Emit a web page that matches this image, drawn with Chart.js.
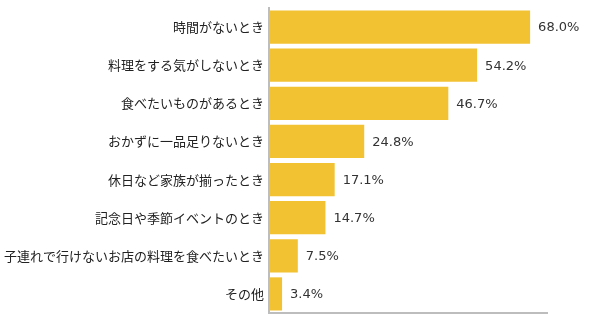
<!DOCTYPE html>
<html lang="ja">
<head>
    <meta charset="UTF-8">
    <title>利用シーン</title>
    <script src="https://cdn.jsdelivr.net/npm/chart.js"></script>
    <style>
        html, body {
            margin: 0;
            padding: 0;
            background: #ffffff;
        }

        .chart-container {
            width: 599px;
            height: 322px;
        }
    </style>
</head>
<body>
    <div class="chart-container">
        <canvas id="sceneChart"></canvas>
    </div>

    <script>
        const categories = [
            '時間がないとき',
            '料理をする気がしないとき',
            '食べたいものがあるとき',
            'おかずに一品足りないとき',
            '休日など家族が揃ったとき',
            '記念日や季節イベントのとき',
            '子連れで行けないお店の料理を食べたいとき',
            'その他'
        ];
        const percentages = [68.0, 54.2, 46.7, 24.8, 17.1, 14.7, 7.5, 3.4];

        // draws "68.0%" etc. just right of each bar
        const valueLabels = {
            id: 'valueLabels',
            afterDatasetsDraw(chart) {
                const ctx = chart.ctx;
                const meta = chart.getDatasetMeta(0);
                ctx.save();
                ctx.font = '13px "DejaVu Sans", sans-serif';
                ctx.fillStyle = '#333333';
                ctx.textBaseline = 'middle';
                ctx.textAlign = 'left';
                meta.data.forEach((bar, i) => {
                    ctx.fillText(percentages[i].toFixed(1) + '%', bar.x + 8, bar.y + 1);
                });
                ctx.restore();
            }
        };

        const ctx = document.getElementById('sceneChart').getContext('2d');
        new Chart(ctx, {
            type: 'bar',
            data: {
                labels: categories,
                datasets: [{
                    data: percentages,
                    backgroundColor: '#f2c233',
                    borderWidth: 0,
                    categoryPercentage: 1,
                    barPercentage: 0.87
                }]
            },
            options: {
                indexAxis: 'y',
                responsive: true,
                maintainAspectRatio: false,
                animation: false,
                layout: {
                    padding: { top: 8, right: 52, bottom: 9, left: 0 }
                },
                plugins: {
                    legend: { display: false },
                    tooltip: { enabled: false }
                },
                scales: {
                    x: {
                        min: 0,
                        max: 72.4,
                        afterFit(scale) {
                            scale.height = 0;
                        },
                        ticks: { display: false, padding: 0 },
                        grid: { display: false, drawTicks: false },
                        border: { display: true, color: '#bdbdbd', width: 2 }
                    },
                    y: {
                        afterFit(scale) {
                            scale.width = 269;
                            scale.paddingTop = 0;
                            scale.paddingBottom = 0;
                        },
                        ticks: {
                            padding: 5,
                            color: '#222222',
                            font: { family: '"Noto Sans CJK JP", sans-serif', size: 13 }
                        },
                        grid: { display: false, drawTicks: false },
                        border: { display: true, color: '#bdbdbd', width: 2 }
                    }
                }
            },
            plugins: [valueLabels]
        });
    </script>
</body>
</html>
